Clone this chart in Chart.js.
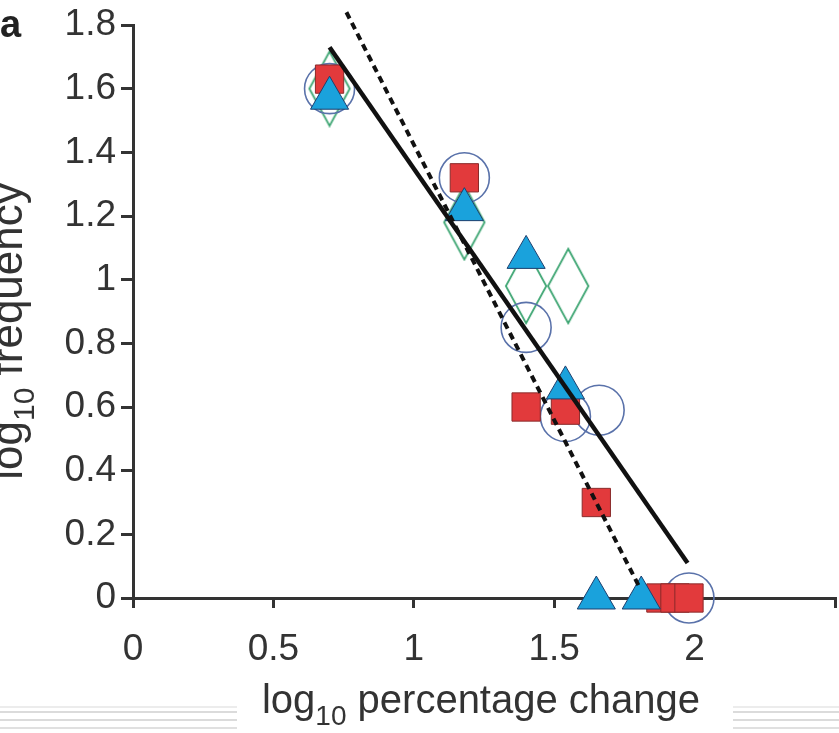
<!DOCTYPE html>
<html><head><meta charset="utf-8">
<script src="https://cdn.jsdelivr.net/npm/chart.js@4/dist/chart.umd.min.js"></script>
<style>html,body{margin:0;padding:0;background:#fff;}#wrap{width:839px;height:733px;position:relative;}canvas{display:block;}</style>
</head><body><div id="wrap"><canvas id="c" width="839" height="733"></canvas></div>
<script>
// ---- data (log10 percentage change vs log10 frequency) ----
const squareX   = [0.70, 1.18, 1.40, 1.54, 1.65, 1.88, 1.93, 1.98];
const squareY   = [1.63, 1.32, 0.60, 0.59, 0.30, 0, 0, 0];
const triangleX = [0.70, 1.18, 1.40, 1.54, 1.65, 1.81];
const triangleY = [1.57, 1.22, 1.07, 0.66, 0, 0];
const circleX   = [0.70, 1.18, 1.40, 1.54, 1.66, 1.98];
const circleY   = [1.60, 1.32, 0.85, 0.57, 0.59, 0];
const diamondX  = [0.70, 1.18, 1.40, 1.55];
const diamondY  = [1.60, 1.18, 0.98, 0.98];
const fitSolidX  = [0.70, 1.975];
const fitSolidY  = [1.73, 0.11];
const fitDashedX = [0.76, 1.80];
const fitDashedY = [1.84, 0.04];
const xTickLabels = ['0', '0.5', '1', '1.5', '2', ''];
const yTickLabels = ['0', '0.2', '0.4', '0.6', '0.8', '1', '1.2', '1.4', '1.6', '1.8'];
const panelLabel = 'a';
const xTitle = ['log', '10', ' percentage change'];
const yTitle = ['log', '10', ' frequency'];

const pts = (xs, ys) => xs.map((x, i) => ({x: x, y: ys[i]}));
const FONT = '"Liberation Sans", Arial, sans-serif';
const INK = '#333';

function diamondImg(w, h, color, lw) {
  const c = document.createElement('canvas');
  c.width = w; c.height = h;
  const g = c.getContext('2d');
  g.strokeStyle = color; g.lineWidth = lw;
  g.beginPath();
  g.moveTo(w / 2, lw); g.lineTo(w - lw, h / 2); g.lineTo(w / 2, h - lw); g.lineTo(lw, h / 2);
  g.closePath(); g.stroke();
  return c;
}

const textPlugin = {
  id: 'texts',
  afterDraw(chart) {
    const ctx = chart.ctx;
    ctx.save();
    const rules = [[707, '#e6e6e6'], [712, '#cfcfcf'], [720, '#cfcfcf'], [728, '#d6d6d6']];
    rules.forEach(([y, col]) => {
      ctx.strokeStyle = col; ctx.lineWidth = 1.5;
      ctx.beginPath(); ctx.moveTo(0, y); ctx.lineTo(237, y); ctx.moveTo(733, y); ctx.lineTo(839, y); ctx.stroke();
    });
    ctx.fillStyle = '#222';
    ctx.textBaseline = 'alphabetic';
    ctx.textAlign = 'left';
    ctx.font = 'bold 38px "Liberation Sans", Arial, sans-serif';
    ctx.fillText(panelLabel, 0, 37);

    function drawSub(parts, size, subSize, subDrop) {
      ctx.font = size + 'px ' + FONT;
      const w0 = ctx.measureText(parts[0]).width;
      const w2 = ctx.measureText(parts[2]).width;
      ctx.font = subSize + 'px ' + FONT;
      const w1 = ctx.measureText(parts[1]).width;
      const total = w0 + w1 + w2;
      let x = -total / 2;
      ctx.font = size + 'px ' + FONT;
      ctx.fillText(parts[0], x, 0); x += w0;
      ctx.font = subSize + 'px ' + FONT;
      ctx.fillText(parts[1], x, subDrop); x += w1;
      ctx.font = size + 'px ' + FONT;
      ctx.fillText(parts[2], x, 0);
    }
    ctx.fillStyle = INK;
    ctx.save();
    ctx.translate(481, 713);
    drawSub(xTitle, 40, 28, 12);
    ctx.restore();
    ctx.save();
    ctx.translate(22, 331);
    ctx.rotate(-Math.PI / 2);
    drawSub(yTitle, 44, 30, 12);
    ctx.restore();
    ctx.restore();
  }
};

const ctxEl = document.getElementById('c');
new Chart(ctxEl, {
  type: 'scatter',
  data: {
    datasets: [
      { label: 'fit', data: pts(fitSolidX, fitSolidY), showLine: true, pointRadius: 0, borderColor: '#111', borderWidth: 4.5, clip: false, order: 1 },
      { label: 'fit2', data: pts(fitDashedX, fitDashedY), showLine: true, pointRadius: 0, borderColor: '#111', borderWidth: 4, borderDash: [7, 5], clip: false, order: 2 },
      { label: 'triangles', data: pts(triangleX, triangleY), pointStyle: 'triangle', pointRadius: 22, backgroundColor: '#1aa2dc', borderColor: '#1d3f6e', borderWidth: 1, clip: false, order: 3 },
      { label: 'squares', data: pts(squareX, squareY), pointStyle: 'rect', pointRadius: 20, backgroundColor: '#e23a3c', borderColor: '#8a2a2a', borderWidth: 1, clip: false, order: 4 },
      { label: 'circles', data: pts(circleX, circleY), pointStyle: 'circle', pointRadius: 25, backgroundColor: 'rgba(0,0,0,0)', borderColor: '#5a72aa', borderWidth: 1.6, clip: false, order: 5 },
      { label: 'diamonds', data: pts(diamondX, diamondY), pointStyle: diamondImg(44, 78, '#3da572', 1.8), pointRadius: 22, clip: false, order: 6 }
    ]
  },
  options: {
    responsive: false,
    devicePixelRatio: 1,
    animation: false,
    events: [],
    layout: { autoPadding: false, padding: { left: 0, top: 25, right: 4, bottom: 0 } },
    plugins: { legend: { display: false }, tooltip: { enabled: false } },
    scales: {
      x: {
        type: 'linear', min: 0, max: 2.5,
        afterFit(s) { s.height = 135; s.paddingLeft = 0; s.paddingRight = 0; },
        ticks: { stepSize: 0.5, autoSkip: false, maxRotation: 0, color: INK, padding: 20,
          font: { family: FONT, size: 37 }, callback: (v, i) => xTickLabels[i] },
        grid: { drawOnChartArea: false, drawTicks: true, tickLength: 10, color: INK, lineWidth: 3 },
        border: { display: true, color: INK, width: 3 }
      },
      y: {
        type: 'linear', min: 0, max: 1.8,
        afterFit(s) { s.width = 133; s.paddingTop = 0; s.paddingBottom = 0; },
        ticks: { stepSize: 0.2, autoSkip: false, color: INK, padding: 5,
          font: { family: FONT, size: 37 }, callback: (v, i) => yTickLabels[i] },
        grid: { drawOnChartArea: false, drawTicks: true, tickLength: 12, color: INK, lineWidth: 3 },
        border: { display: true, color: INK, width: 3 }
      }
    }
  },
  plugins: [textPlugin]
});
</script></body></html>
